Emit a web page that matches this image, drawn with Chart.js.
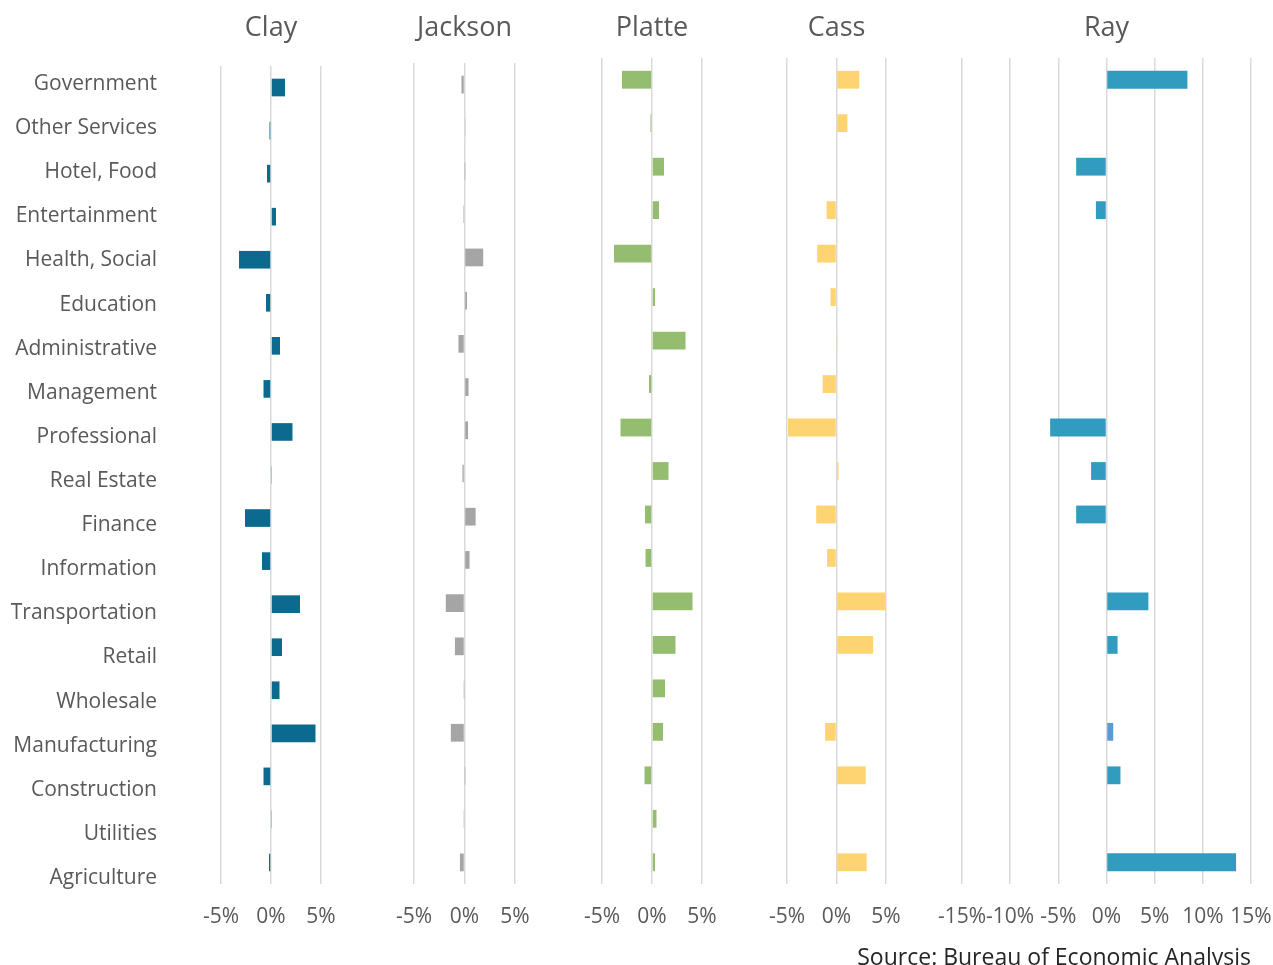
<!DOCTYPE html>
<html>
<head>
<meta charset="utf-8">
<title>Employment change by county</title>
<script src="https://cdn.jsdelivr.net/npm/chart.js@4.4.1/dist/chart.umd.min.js"></script>
<style>
  body { margin: 0; background: #fff; }
  #wrap { position: relative; width: 1273px; height: 965px; overflow: hidden; background: #fff; }
  #wrap canvas { position: absolute; top: 0; }
  #source { position: absolute; right: 22px; top: 940px; font: 23px "Open Sans", sans-serif; color: #262626; white-space: nowrap; }
</style>
</head>
<body>
<div id="wrap">
  <canvas id="labels"></canvas>
  <canvas id="clay"></canvas>
  <canvas id="jackson"></canvas>
  <canvas id="platte"></canvas>
  <canvas id="cass"></canvas>
  <canvas id="ray"></canvas>
  <div id="source">Source: Bureau of Economic Analysis</div>
</div>
<script>
// Industry categories (top to bottom)
const CATEGORIES = ["Government", "Other Services", "Hotel, Food", "Entertainment", "Health, Social",
  "Education", "Administrative", "Management", "Professional", "Real Estate", "Finance",
  "Information", "Transportation", "Retail", "Wholesale", "Manufacturing", "Construction",
  "Utilities", "Agriculture"];

// % change per county
const CLAY    = [1.4, -0.15, -0.4, 0.5, -3.2, -0.5, 0.9, -0.75, 2.15, 0.05, -2.6, -0.9, 2.9, 1.1, 0.85, 4.45, -0.75, 0.05, -0.2];
const JACKSON = [-0.3, 0.05, 0.02, -0.12, 1.85, 0.25, -0.6, 0.4, 0.35, -0.2, 1.1, 0.5, -1.85, -0.95, -0.03, -1.35, 0.03, -0.04, -0.45];
const PLATTE  = [-3.0, -0.15, 1.2, 0.7, -3.8, 0.3, 3.35, -0.3, -3.15, 1.65, -0.7, -0.65, 4.05, 2.35, 1.3, 1.1, -0.75, 0.45, 0.3];
const CASS    = [2.3, 1.1, -0.07, -1.0, -1.95, -0.6, 0.1, -1.4, -4.9, 0.2, -2.05, -0.95, 5.1, 3.7, 0, -1.15, 2.95, 0, 3.05];
const RAY     = [8.4, 0, -3.15, -1.1, 0, -0.12, 0, -0.12, -5.85, -1.6, -3.15, 0, 4.35, 1.15, 0, 0.7, 1.45, 0, 13.45];

// axis ranges
const SMALL_RANGE = [-5, 5];
const RAY_RANGE = [-15, 15];

const TEXT = "#595959";
const FONT = "'Open Sans', sans-serif";
const PAD = 50;

// Ray: tiny negatives come out white (Excel invert-if-negative), manufacturing lighter
function rayColor(ctx) {
  const v = ctx.raw;
  if (v < 0 && v > -0.5) return "#ffffff";
  if (CATEGORIES[ctx.dataIndex] === "Manufacturing") return "#5B9BD5";
  return "#329CC0";
}

// category names down the left, on their own axis (they sit a little looser than the bars)
function labelColumn() {
  const canvas = document.getElementById("labels");
  canvas.width = 231;
  canvas.height = 965;
  canvas.style.left = "0px";
  new Chart(canvas, {
    type: "bar",
    data: { labels: CATEGORIES, datasets: [{ data: [] }] },
    options: {
      indexAxis: "y",
      responsive: false,
      animation: false,
      layout: { padding: { left: 0, right: 0, top: 62, bottom: 965 - 900 } },
      plugins: { legend: { display: false }, tooltip: { enabled: false } },
      scales: {
        x: { display: false },
        y: {
          grid: { display: false, drawTicks: false },
          border: { display: false },
          ticks: { padding: 64, color: TEXT, font: { family: FONT, size: 21 } },
          // fixed width; drop the tick padding chart.js adds above/below
          afterFit: s => { s.width = 221; s.paddingTop = 0; s.paddingBottom = 0; }
        }
      }
    }
  });
}

// panel: canvas id, title, values, colour, plot left/right, plot top, range
function panel(id, title, values, color, plotLeft, plotRight, plotTop, range) {
  const canvas = document.getElementById(id);
  const left = plotLeft - PAD;
  canvas.width = plotRight + PAD - left;
  canvas.height = 965;
  canvas.style.left = left + "px";

  const titleSize = 27, titleTop = 12;
  new Chart(canvas, {
    type: "bar",
    data: {
      labels: CATEGORIES,
      datasets: [{
        data: values,
        backgroundColor: color,
        borderWidth: 0,
        barPercentage: 0.41,
        categoryPercentage: 1
      }]
    },
    options: {
      indexAxis: "y",
      responsive: false,
      animation: false,
      layout: { padding: { left: PAD, right: PAD, top: 0, bottom: 0 } },
      plugins: {
        legend: { display: false },
        tooltip: { enabled: false },
        title: {
          display: true,
          text: title,
          fullSize: false,
          color: TEXT,
          font: { family: FONT, size: titleSize, weight: "normal", lineHeight: 1.2 },
          padding: { top: titleTop, bottom: plotTop - titleTop - titleSize * 1.2 }
        }
      },
      scales: {
        x: {
          min: range[0],
          max: range[1],
          grid: { color: "#D9D9D9", lineWidth: 1.5, drawTicks: false },
          border: { display: false },
          ticks: {
            stepSize: 5,
            padding: 20,
            color: TEXT,
            font: { family: FONT, size: 21 },
            maxRotation: 0,
            autoSkip: false,
            callback: v => v + "%"
          },
          afterFit: s => { s.height = 965 - 884; }
        },
        y: { display: false }
      }
    }
  });
}

labelColumn();
panel("clay",    "Clay",    CLAY,    "#0B6A8D", 221, 321, 66, SMALL_RANGE);
panel("jackson", "Jackson", JACKSON, "#A5A5A5", 414, 515, 63, SMALL_RANGE);
panel("platte",  "Platte",  PLATTE,  "#94BD6F", 602, 702, 58, SMALL_RANGE);
panel("cass",    "Cass",    CASS,    "#FDD471", 787, 886, 58, SMALL_RANGE);
panel("ray",     "Ray",     RAY,     rayColor,  962, 1251, 58, RAY_RANGE);
</script>
</body>
</html>
